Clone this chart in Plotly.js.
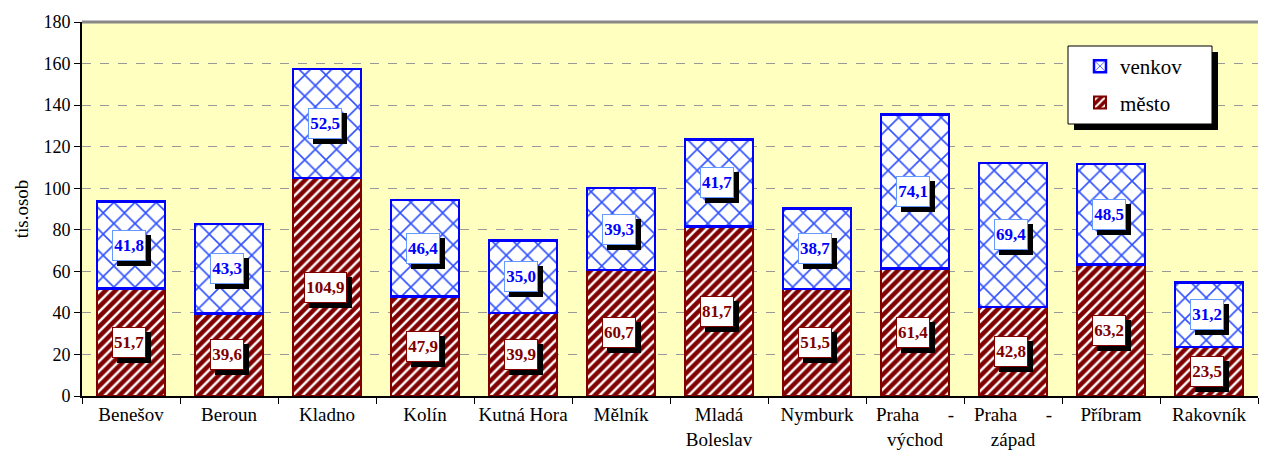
<!DOCTYPE html>
<html>
<head>
<meta charset="utf-8">
<script src="https://cdn.plot.ly/plotly-3.0.1.min.js"></script>
<style>html,body{margin:0;padding:0;background:#fff}#chart{width:1261px;height:454px}</style>
</head>
<body>
<div id="chart"></div>
<script>
var categories = ["Benešov","Beroun","Kladno","Kolín","Kutná Hora","Mělník","Mladá Boleslav","Nymburk","Praha - východ","Praha - západ","Příbram","Rakovník"];
var tickLabels = ["Benešov","Beroun","Kladno","Kolín","Kutná Hora","Mělník","Mladá<br>Boleslav","Nymburk","Praha&nbsp;&nbsp;&nbsp;&nbsp;&nbsp;&nbsp;-<br>východ","Praha&nbsp;&nbsp;&nbsp;&nbsp;&nbsp;&nbsp;-<br>západ","Příbram","Rakovník"];
var mesto = [51.7,39.6,104.9,47.9,39.9,60.7,81.7,51.5,61.4,42.8,63.2,23.5];
var venkov = [41.8,43.3,52.5,46.4,35.0,39.3,41.7,38.7,74.1,69.4,48.5,31.2];

var FONT = 'Liberation Serif';
var fmt = function(v){ return v.toFixed(1).replace('.', ','); };

var traceMesto = {
  type:'bar', name:'město', x:categories, y:mesto, legendgroup:'m', legendrank:2,
  marker:{color:'#800000', line:{color:'#800000', width:2},
    pattern:{shape:'/', fgcolor:'#ffffff', bgcolor:'#800000', size:7, solidity:0.35}},
  hoverinfo:'skip'
};
var traceVenkov = {
  type:'bar', name:'venkov', x:categories, y:venkov, legendgroup:'v', legendrank:1,
  marker:{color:'#ffffff', line:{color:'#0000ff', width:2.5},
    pattern:{shape:'x', fgcolor:'#2f50ff', bgcolor:'#ffffff', size:15, solidity:0.2}},
  hoverinfo:'skip'
};

var annotations = [];
function addLabel(xc, yc, txt, color, border){
  var w = 8.5*(txt.length-1) + 4.5;
  annotations.push({x:xc, y:yc, xref:'x', yref:'y', text:'&nbsp;', showarrow:false,
    font:{family:FONT, size:17, color:'#000'},
    bgcolor:'#000', bordercolor:'#000', borderwidth:1, borderpad:1, width:w, height:27,
    xshift:3, yshift:-5});
  annotations.push({x:xc, y:yc, xref:'x', yref:'y', text:'<b>'+txt+'</b>', showarrow:false,
    font:{family:FONT, size:17, color:color},
    bgcolor:'#ffffff', bordercolor:border, borderwidth:1, borderpad:1, width:w, height:27,
    xshift:-2, yshift:0});
}
for (var i=0;i<categories.length;i++){
  addLabel(categories[i], mesto[i]/2, fmt(mesto[i]), '#800000', '#800000');
  addLabel(categories[i], mesto[i]+venkov[i]/2, fmt(venkov[i]), '#0000ff', '#6699ff');
}

var W=1261, H=454, L=82, R=3, T=22, B=58;
var pw=W-L-R, ph=H-T-B;
function px2x(p){ return (p-L)/pw; }
function py2y(p){ return 1-(p-T)/ph; }

var layout = {
  width:W, height:H,
  margin:{l:L, r:R, t:T, b:B},
  paper_bgcolor:'#ffffff', plot_bgcolor:'#FFFFC0',
  barmode:'stack', bargap:0.31,
  font:{family:FONT, color:'#000'},
  showlegend:true,
  legend:{x:px2x(1080), y:py2y(46), xanchor:'left', yanchor:'top',
    bgcolor:'rgba(0,0,0,0)', borderwidth:0,
    font:{size:21, family:FONT}, traceorder:'grouped', tracegroupgap:6},
  xaxis:{tickvals:categories, ticktext:tickLabels, tickson:'boundaries', ticks:'outside', ticklen:6,
    tickangle:0, automargin:false,
    tickcolor:'#000', showline:true, linecolor:'#000', linewidth:2, showgrid:false,
    tickfont:{size:19, family:FONT}, fixedrange:true},
  yaxis:{range:[0,180], dtick:20, ticks:'outside', ticklen:6, tickcolor:'#000',
    showline:true, linecolor:'#000', linewidth:2, showgrid:true, gridcolor:'#999999',
    griddash:'dash', gridwidth:1, zeroline:false, tickfont:{size:18, family:FONT},
    title:{text:'tis.osob', font:{size:19, family:FONT}, standoff:10}, fixedrange:true},
  annotations:annotations,
  shapes:[
    {type:'line', xref:'paper', yref:'paper', x0:0, x1:1, y0:1, y1:1, line:{color:'#888', width:3}, layer:'above'},
    {type:'rect', xref:'paper', yref:'paper', x0:px2x(1074), x1:px2x(1218), y0:py2y(52), y1:py2y(130),
     fillcolor:'#000', line:{width:0}, layer:'above'},
    {type:'rect', xref:'paper', yref:'paper', x0:px2x(1068), x1:px2x(1212), y0:py2y(46), y1:py2y(124),
     fillcolor:'#fff', line:{width:1, color:'#000'}, layer:'above'}
  ]
};

Plotly.newPlot('chart', [traceMesto, traceVenkov], layout, {displayModeBar:false, staticPlot:true});
</script>
</body>
</html>
